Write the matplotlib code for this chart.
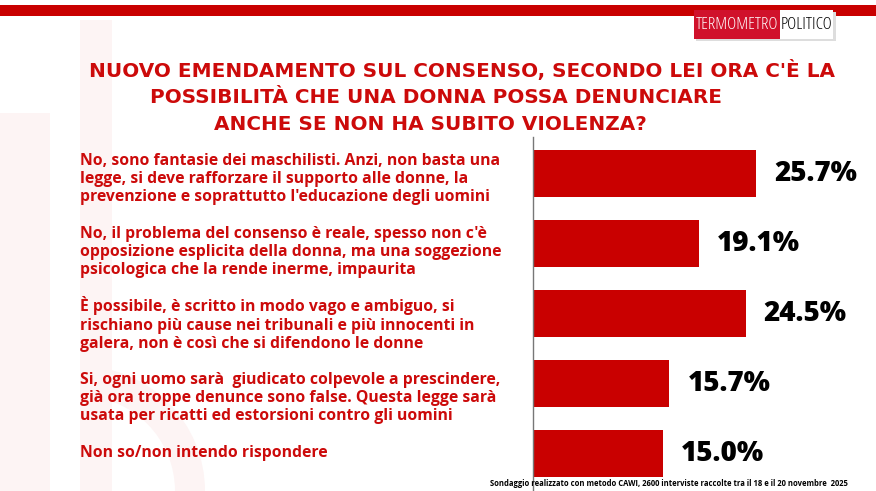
import matplotlib.pyplot as plt
from matplotlib.patches import Rectangle, Wedge

W, H = 876, 491

title_lines = [
    "NUOVO EMENDAMENTO SUL CONSENSO, SECONDO LEI ORA C'È LA",
    "POSSIBILITÀ CHE UNA DONNA POSSA DENUNCIARE",
    "ANCHE SE NON HA SUBITO VIOLENZA?",
]
answers = [
    "No, sono fantasie dei maschilisti. Anzi, non basta una\n"
    "legge, si deve rafforzare il supporto alle donne, la\n"
    "prevenzione e soprattutto l'educazione degli uomini",
    "No, il problema del consenso è reale, spesso non c'è\n"
    "opposizione esplicita della donna, ma una soggezione\n"
    "psicologica che la rende inerme, impaurita",
    "È possibile, è scritto in modo vago e ambiguo, si\n"
    "rischiano più cause nei tribunali e più innocenti in\n"
    "galera, non è così che si difendono le donne",
    "Si, ogni uomo sarà  giudicato colpevole a prescindere,\n"
    "già ora troppe denunce sono false. Questa legge sarà\n"
    "usata per ricatti ed estorsioni contro gli uomini",
    "Non so/non intendo rispondere",
]
values = [25.7, 19.1, 24.5, 15.7, 15.0]
footnote = ("Sondaggio realizzato con metodo CAWI, 2600 interviste raccolte "
            "tra il 18 e il 20 novembre  2025")

RED = "#c90000"
TXT_RED = "#cc0a0a"


def fx(px):
    return px / W


def fy(py):
    return 1 - py / H


fig = plt.figure(figsize=(W / 100, H / 100), dpi=100)
fig.patch.set_facecolor("white")

# faint watermark in the background
bg = fig.add_axes([0, 0, 1, 1], zorder=0)
bg.set_xlim(0, W)
bg.set_ylim(H, 0)
bg.axis("off")
wm = "#fdf4f4"
bg.add_patch(Rectangle((0, 113), 50, H - 113, color=wm, lw=0))
bg.add_patch(Rectangle((80, 20), 32, H - 20, color=wm, lw=0))
bg.add_patch(Wedge((80, H), 125, 270, 360, width=30, color=wm, lw=0))

# top band + logo
bg.add_patch(Rectangle((0, 5), W, 11, color=RED, lw=0))
bg.add_patch(Rectangle((696, 12), 140, 29, color="#dddddd", lw=0))
bg.add_patch(Rectangle((694, 10), 86, 29, color="#d0112b", lw=0))
bg.add_patch(Rectangle((780, 10), 53, 29, color="white", lw=0))
bg.text(737, 25, "TERMOMETRO", color="white", fontsize=12.5,
        family="Open Sans", fontstretch="condensed",
        ha="center", va="center")
bg.text(806.5, 25, "POLITICO", color="black", fontsize=12.5,
        family="Open Sans", fontstretch="condensed",
        ha="center", va="center")

# title
title_cx = [462, 436, 430]
title_base = [77, 103, 130]
for line, cx, by in zip(title_lines, title_cx, title_base):
    fig.text(fx(cx), fy(by), line, color=TXT_RED, fontsize=14.4,
             family="DejaVu Sans", fontweight="bold", ha="center",
             va="baseline")

# answer labels
label_cy = [179, 252, 324, 398, 453]
for txt, cy in zip(answers, label_cy):
    fig.text(fx(80), fy(cy), txt, color=TXT_RED, fontsize=11.3,
             family="Open Sans", fontweight="bold", ha="left",
             va="center", linespacing=1.2)

# bars
ax = fig.add_axes([fx(533), 0, 1 - fx(533), fy(137)], zorder=1)
ax.patch.set_alpha(0)
ypos = list(range(len(values)))
ax.barh(ypos, values, height=0.67, color=RED)
ax.set_xlim(0, 39.5)
ax.set_ylim(4.536, -0.521)
for y, v in zip(ypos, values):
    ax.annotate(f"{v:.1f}%", (v, y), xytext=(13, 0),
                textcoords="offset points", va="center", ha="left",
                fontsize=20, fontweight="heavy", fontstretch="condensed",
                family="Open Sans", color="black")
for s in ["top", "right", "bottom"]:
    ax.spines[s].set_visible(False)
ax.spines["left"].set_color("#777777")
ax.spines["left"].set_linewidth(1.0)
ax.set_xticks([])
ax.set_yticks([])

fig.text(fx(848), fy(483), footnote, fontsize=5.5, fontweight="bold",
         family="Open Sans", ha="right", va="center", color="black",
         zorder=3)

fig.savefig("out.png", dpi=100, facecolor="white")
